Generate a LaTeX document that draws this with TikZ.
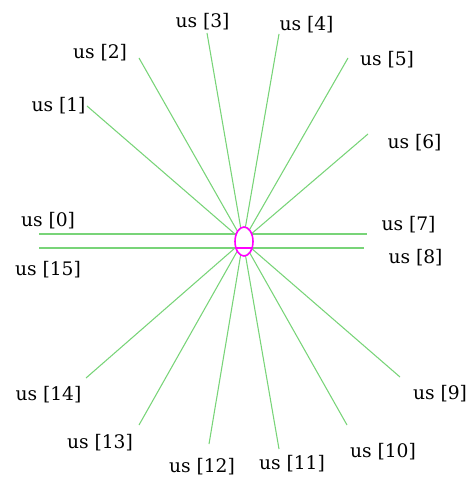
\documentclass[tikz,border=0pt]{standalone}
\usepackage{fontspec}
\setmainfont{DejaVu Serif}
\usetikzlibrary{shapes.geometric,calc}
\definecolor{ray}{RGB}{120,212,120}
\definecolor{mag}{RGB}{255,0,255}
\begin{document}
\begin{tikzpicture}[x=0.75pt,y=-0.75pt,
  lbl/.style={font=\fontsize{14}{16}\selectfont, inner sep=0pt, text=black},
  rayline/.style={draw=ray, line width=0.8pt},
  hub/.style={ellipse, draw=mag, fill=white, line width=1.2pt, minimum width=13.5pt, minimum height=21.75pt, inner sep=0pt}]
\useasboundingbox (0,0) rectangle (472,477);
% labels
\node[lbl] (l0)  at (48,220.5)  {us [0]};
\node[lbl] (l1)  at (58.5,105.5) {us [1]};
\node[lbl] (l2)  at (100,52.5)  {us [2]};
\node[lbl] (l3)  at (202.5,22)  {us [3]};
\node[lbl] (l4)  at (306.5,25)  {us [4]};
\node[lbl] (l5)  at (387,59.5)  {us [5]};
\node[lbl] (l6)  at (414.5,143) {us [6]};
\node[lbl] (l7)  at (408.5,224.5) {us [7]};
\node[lbl] (l8)  at (415.5,257.5) {us [8]};
\node[lbl] (l9)  at (440,393.5) {us [9]};
\node[lbl] (l10) at (383,451.5) {us [10]};
\node[lbl] (l11) at (292,463.5) {us [11]};
\node[lbl] (l12) at (202,466.5) {us [12]};
\node[lbl] (l13) at (100,442.5) {us [13]};
\node[lbl] (l14) at (48.5,394.5) {us [14]};
\node[lbl] (l15) at (48,269.5)  {us [15]};
% ray ends
\coordinate (o) at (243,241);
\coordinate (oa) at (243,234);
\coordinate (ob) at (243,248);
\coordinate (e0) at (39,234);
\coordinate (e7) at (367,234);
\coordinate (e15) at (39,248);
\coordinate (e8) at (364,248);
\coordinate (e1) at (87,106);
\coordinate (e2) at (139,58);
\coordinate (e3) at (207,33);
\coordinate (e4) at (279,34);
\coordinate (e5) at (348,58);
\coordinate (e6) at (368,134);
\coordinate (e9) at (400,377);
\coordinate (e10) at (347,425);
\coordinate (e11) at (279,449);
\coordinate (e12) at (209,444);
\coordinate (e13) at (139,425);
\coordinate (e14) at (86,378);
\draw[rayline] (oa) -- (e0);
\draw[rayline] (oa) -- (e7);
\draw[rayline] (ob) -- (e15);
\draw[rayline] (ob) -- (e8);
\foreach \i in {1,2,3,4,5,6,9,10,11,12,13,14}{
  \draw[rayline] (o) -- (e\i);
}
% hub
\node[hub] (c) at (244,241.5) {};
\draw[draw=mag, line width=1.3pt] ($(c.center)+(-8.1,6.2)$) -- ($(c.center)+(8.1,6.2)$);
\end{tikzpicture}
\end{document}
